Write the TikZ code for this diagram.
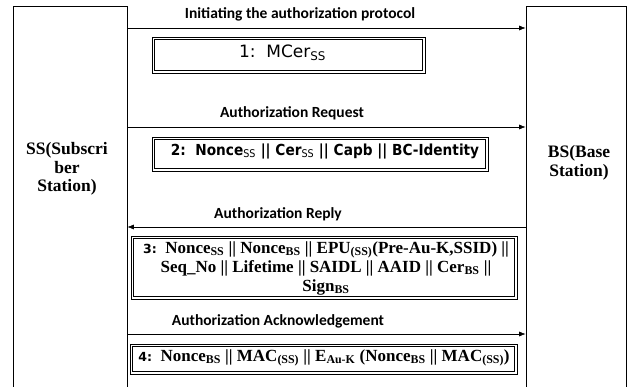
\documentclass[tikz,border=0pt]{standalone}
\usepackage{fontspec}
\setmainfont{Liberation Serif}
\newfontfamily\lblfont{Carlito}
\newfontfamily\boxfont{DejaVu Sans}
\newfontfamily\narrowfont{DejaVu Sans}[FakeStretch=0.9]
\usetikzlibrary{arrows.meta}
\newcommand\lo[1]{\textsubscript{#1}}
\begin{document}
\begin{tikzpicture}[x=1pt,y=-1pt,
  party/.style={draw, line width=0.6pt, inner sep=0pt},
  partytext/.style={font=\fontsize{17.5}{18.5}\selectfont\bfseries, align=center},
  msg/.style={line width=0.6pt, -{Latex[length=6.5pt,width=5pt]}},
  msglabel/.style={font=\lblfont\fontsize{15.5}{17}\selectfont\bfseries},
  payload/.style={draw, line width=0.6pt, inner sep=0pt},
  payloadtext/.style={font=\fontsize{17}{19}\selectfont\bfseries, align=center}
]
\useasboundingbox (0,0) rectangle (628,387);

% the two stations, open towards the bottom
\node[party, minimum width=114pt, minimum height=394pt] (SS) at (70,203) {};
\node[party, minimum width=100pt, minimum height=394pt] (BS) at (576,203) {};
\node[partytext] (SSname) at (67,169) {SS(Subscri\\ber\\Station)};
\node[partytext] (BSname) at (579,163) {BS(Base\\Station)};

% message 1
\node[msglabel] (l1) at (300,14) {Initiating the authorization protocol};
\draw[msg] (SS.east |- 0,28) -- (BS.west |- 0,28);
\node[payload, minimum width=273pt, minimum height=36pt] (m1) at (288.5,55) {};
\node[font=\boxfont\fontsize{17}{19}\selectfont] (t1) at (282.5,53) {1:\ \ MCer\lo{SS}};

% message 2
\node[msglabel] (l2) at (292,113) {Authorization Request};
\draw[msg] (SS.east |- 0,127) -- (BS.west |- 0,127);
\node[payload, minimum width=336pt, minimum height=34pt] (m2) at (320,154) {};
\node[font=\narrowfont\fontsize{15.2}{17}\selectfont\bfseries] (t2) at (325,151)
  {2:\ \ Nonce{\mdseries\lo{SS}} || Cer{\mdseries\lo{SS}} || Capb || BC-Identity};

% message 3
\node[msglabel] (l3) at (278,214) {Authorization Reply};
\draw[msg] (BS.west |- 0,227) -- (SS.east |- 0,227);
\node[payload, minimum width=386pt, minimum height=63pt] (m3) at (324,267.5) {};
\node[payloadtext] (t3) at (326,268)
  {{\boxfont\fontsize{12.5}{14}\selectfont 3:}\ \ Nonce\lo{SS} || Nonce\lo{BS} || EPU\lo{(SS)}(Pre-Au-K,SSID) ||\\
   Seq\_No || Lifetime || SAIDL || AAID || Cer\lo{BS} ||\\
   Sign\lo{BS}};

% message 4
\node[msglabel] (l4) at (278,321) {Authorization Acknowledgement};
\draw[msg] (SS.east |- 0,334) -- (BS.west |- 0,334);
\node[payload, minimum width=387pt, minimum height=30pt] (m4) at (323.5,359) {};
\node[payloadtext] (t4) at (324,358)
  {{\boxfont\fontsize{12.5}{14}\selectfont 4:}\ \ Nonce\lo{BS} || MAC\lo{(SS)} || E\lo{Au-K} (Nonce\lo{BS} || MAC\lo{(SS)})};

% inner line of each double frame
\foreach \m in {m1,m2,m3,m4}
  \draw[line width=0.6pt] ([xshift=2.8pt,yshift=-2.8pt]\m.north west)
    rectangle ([xshift=-2.8pt,yshift=2.8pt]\m.south east);
\end{tikzpicture}
\end{document}
